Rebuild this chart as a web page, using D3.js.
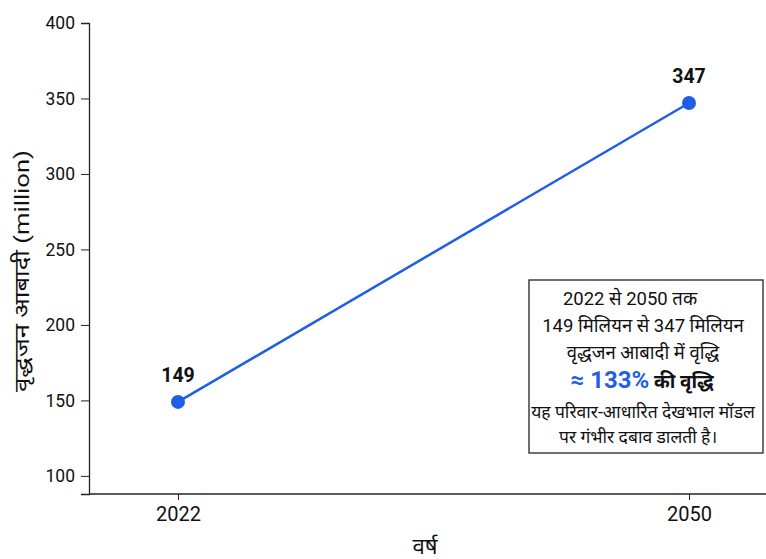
<!DOCTYPE html>
<html>
<head>
<meta charset="utf-8">
<script src="https://cdn.jsdelivr.net/npm/d3@7"></script>
<style>
body { margin: 0; background: #fff; }
text { font-family: Roboto, "Noto Sans", sans-serif; }
</style>
</head>
<body>
<div id="chart"></div>
<script>
// data
var years = [2022, 2050];
var elderly = [149, 347];
var yTicks = [100, 150, 200, 250, 300, 350, 400];
var noteLines = ["2022 से 2050 तक", "149 मिलियन से 347 मिलियन", "वृद्धजन आबादी में वृद्धि"];
var noteTail = ["यह परिवार-आधारित देखभाल मॉडल", "पर गंभीर दबाव डालती है।"];

var W = 766, H = 559;
var margin = {top: 23, left: 89};
var blue = "#1f5fe8";

var svg = d3.select("#chart").append("svg")
    .attr("width", W).attr("height", H);

// scales
var x = d3.scaleLinear().domain([2022, 2050]).range([178, 689]);
var y = d3.scaleLinear().domain([88, 400]).range([494, 23]);

// y axis
var yAxis = svg.append("g")
    .attr("transform", "translate(" + margin.left + ",0)")
    .call(d3.axisLeft(y).tickValues(yTicks).tickSize(8).tickPadding(6));
yAxis.select(".domain").attr("stroke", "#222").attr("stroke-width", 1.3);
yAxis.selectAll(".tick line").attr("stroke", "#222");
yAxis.selectAll("text").attr("font-size", 17.5).attr("fill", "#111");

// x axis
var xAxis = svg.append("g")
    .attr("transform", "translate(0,494)")
    .call(d3.axisBottom(x).tickValues(years).tickFormat(d3.format("d")).tickSize(6).tickPadding(7));
xAxis.select(".domain").attr("d", "M" + margin.left + ",0H" + W).attr("stroke", "#222").attr("stroke-width", 1.3);
xAxis.selectAll(".tick line").attr("stroke", "#222");
xAxis.selectAll("text").attr("font-size", 20).attr("fill", "#111");

// axis labels
svg.append("text")
    .attr("transform", "translate(29,271) rotate(-90) scale(1.22,1)")
    .attr("text-anchor", "middle")
    .attr("font-size", 21).attr("fill", "#111")
    .text("वृद्धजन आबादी (million)");
svg.append("text")
    .attr("x", 425).attr("y", 554)
    .attr("text-anchor", "middle")
    .attr("font-size", 22).attr("fill", "#111")
    .text("वर्ष");

// line + points
var pts = years.map(function(d, i) { return {year: d, v: elderly[i]}; });
svg.append("path")
    .datum(pts)
    .attr("fill", "none")
    .attr("stroke", blue)
    .attr("stroke-width", 2.5)
    .attr("d", d3.line().x(function(d) { return x(d.year); }).y(function(d) { return y(d.v); }));
svg.selectAll("circle.pt")
    .data(pts)
  .enter().append("circle")
    .attr("class", "pt")
    .attr("cx", function(d) { return x(d.year); })
    .attr("cy", function(d) { return y(d.v); })
    .attr("r", 7)
    .attr("fill", blue);
svg.selectAll("text.val")
    .data(pts)
  .enter().append("text")
    .attr("class", "val")
    .attr("x", function(d) { return x(d.year); })
    .attr("y", function(d) { return y(d.v) - 20; })
    .attr("text-anchor", "middle")
    .attr("font-size", 19.5).attr("font-weight", "bold").attr("fill", "#111")
    .text(function(d) { return d.v; });

// annotation box
svg.append("rect")
    .attr("x", 529).attr("y", 280)
    .attr("width", 234).attr("height", 173)
    .attr("fill", "#fff").attr("stroke", "#222").attr("stroke-width", 1.3);
var cx = 643;
var note = svg.append("g").attr("text-anchor", "middle").attr("fill", "#111");
noteLines.forEach(function(t, i) {
    note.append("text")
        .attr("x", i === 0 ? 630 : cx).attr("y", 305 + i * 27)
        .attr("font-size", 18.5)
        .text(t);
});
var big = note.append("text").attr("x", cx - 1).attr("y", 388);
big.append("tspan").attr("fill", blue).attr("font-weight", "bold").attr("font-size", 24)
    .text("≈ " + Math.round((elderly[1] - elderly[0]) / elderly[0] * 100) + "%");
big.append("tspan").attr("font-size", 19).attr("font-weight", "bold").attr("fill", "#111").text(" की वृद्धि");
noteTail.forEach(function(t, i) {
    note.append("text")
        .attr("x", i === 0 ? cx : 638).attr("y", 418 + i * 25)
        .attr("font-size", 17.5)
        .text(t);
});
</script>
</body>
</html>
